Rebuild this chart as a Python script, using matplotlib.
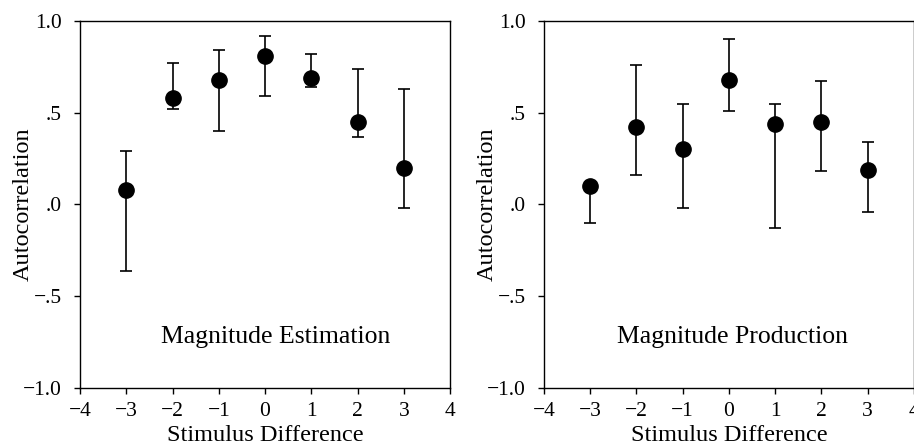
import matplotlib.pyplot as plt

plt.rcParams['font.family'] = ['Liberation Serif', 'DejaVu Serif']

stim_diff = [-3, -2, -1, 0, 1, 2, 3]

# Magnitude Estimation
est_mean = [0.08, 0.58, 0.68, 0.81, 0.69, 0.45, 0.20]
est_low = [-0.36, 0.52, 0.40, 0.59, 0.64, 0.37, -0.02]
est_high = [0.29, 0.77, 0.84, 0.92, 0.82, 0.74, 0.63]

# Magnitude Production
prod_mean = [0.10, 0.42, 0.30, 0.68, 0.44, 0.45, 0.19]
prod_low = [-0.10, 0.16, -0.02, 0.51, -0.13, 0.18, -0.04]
prod_high = [0.10, 0.76, 0.55, 0.90, 0.55, 0.67, 0.34]

yticks = [-1.0, -0.5, 0.0, 0.5, 1.0]
ytick_labels = ['\u22121.0', '\u2212.5', '.0', '.5', '1.0']
xticks = [-4, -3, -2, -1, 0, 1, 2, 3, 4]
xtick_labels = ['\u22124', '\u22123', '\u22122', '\u22121', '0', '1', '2', '3', '4']

fig = plt.figure(figsize=(9.14, 4.45), dpi=100)
ax1 = fig.add_axes([0.0875, 0.128, 0.405, 0.825])
ax2 = fig.add_axes([0.595, 0.128, 0.405, 0.825])

panels = [
    (ax1, est_mean, est_low, est_high, 'Magnitude Estimation', 0.24),
    (ax2, prod_mean, prod_low, prod_high, 'Magnitude Production', 0.07),
]

for ax, mean, low, high, name, tx in panels:
    err = [[m - l for m, l in zip(mean, low)], [h - m for m, h in zip(mean, high)]]
    ax.errorbar(stim_diff, mean, yerr=err, fmt='o', color='black',
                markersize=11, ecolor='black', elinewidth=1.2, capsize=4, capthick=1.2)
    ax.set_xlim(-4, 4)
    ax.set_ylim(-1.0, 1.0)
    ax.set_xticks(xticks)
    ax.set_xticklabels(xtick_labels)
    ax.set_yticks(yticks)
    ax.set_yticklabels(ytick_labels)
    ax.tick_params(direction='out', length=4, width=1, labelsize=15.5)
    ax.tick_params(axis='x', pad=6)
    ax.tick_params(axis='y', pad=9)
    ax.set_xlabel('Stimulus Difference', fontsize=17.5)
    ax.set_ylabel('Autocorrelation', fontsize=17.5)
    ax.xaxis.set_label_coords(0.5, -0.1)
    ax.yaxis.set_label_coords(-0.125, 0.5)
    ax.text(tx, -0.72, name, fontsize=18.5, ha='center', va='center')
    for s in ax.spines.values():
        s.set_linewidth(1)

fig.savefig('out.png', dpi=100)
